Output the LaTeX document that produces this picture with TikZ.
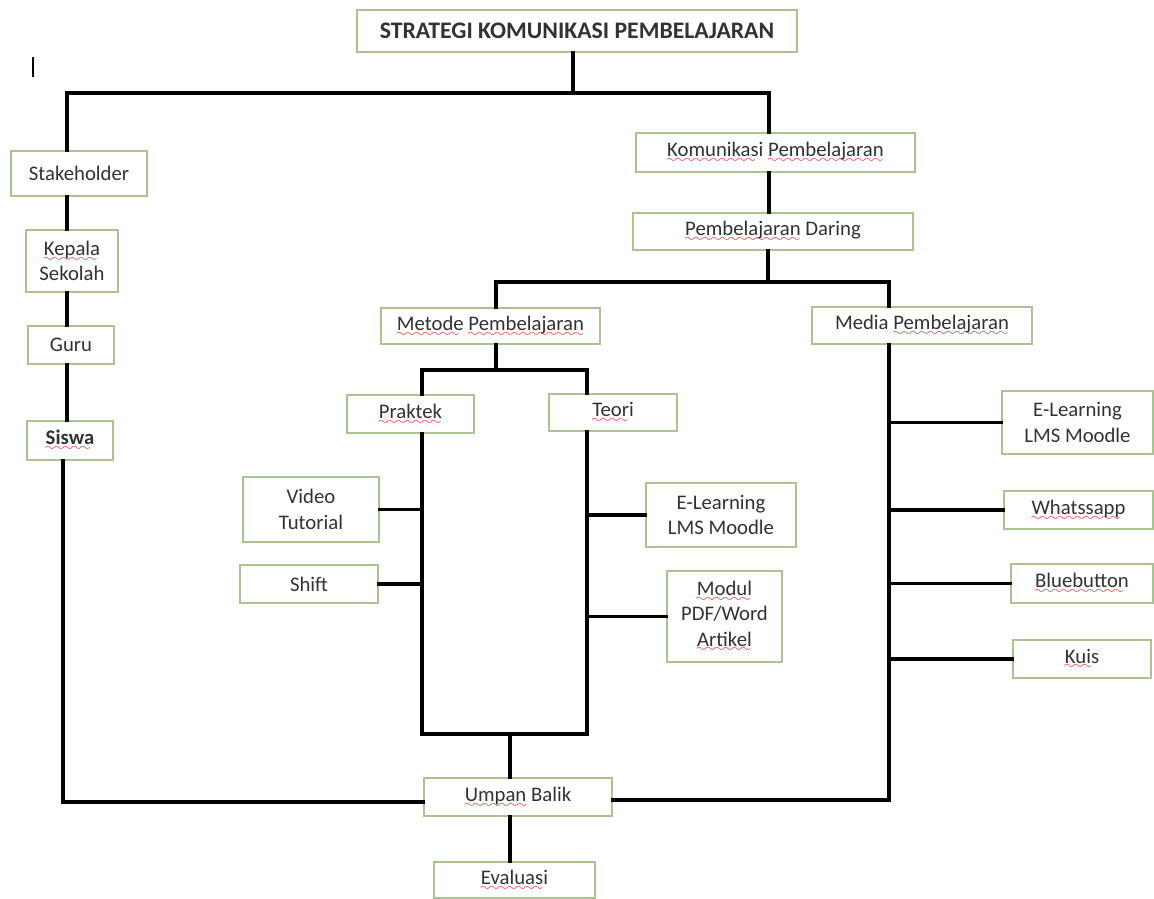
\documentclass[tikz,border=0pt]{standalone}
\usepackage{fontspec}
\setmainfont{Carlito}
\definecolor{bord}{RGB}{170,195,145}
\definecolor{txt}{RGB}{50,50,50}
\font\sixlyfont=lasy6
\newcommand\spl[1]{\setbox0\hbox{#1}\leavevmode\rlap{\lower3.2pt\hbox to\wd0{\color{red}\leaders\hbox{\sixlyfont\char58}\hfill}}\box0\relax}
\newcommand\mybox[7][]{\node[box,#1,minimum width={(#4-#2)*0.02cm},minimum height={(#5-#3)*0.02cm}] (#6) at ({(#2+#4)/2},{(#3+#5)/2}) {#7};}
\tikzset{
  box/.style={draw=bord,line width=0.8pt,fill=white,text=txt,align=center,inner sep=0pt,
    font=\fontsize{11.8}{14.5}\selectfont},
  ln/.style={line width=1.9pt,black,line cap=rect}
}
\begin{document}
\begin{tikzpicture}[x=0.02cm,y=-0.02cm]
\useasboundingbox (0,0) rectangle (1154,899);
% cursor mark
\draw[line width=1.7pt,black] (33,57) -- (33,77);
% junction coordinates
\coordinate (tl) at (67,93);
\coordinate (tr) at (769,93);
\coordinate (tc) at (573,93);
\coordinate (dj) at (768,282);
\coordinate (ml) at (496,282);
\coordinate (mr) at (889,282);
\coordinate (mj) at (496,370);
\coordinate (pj) at (422,370);
\coordinate (tj) at (587,370);
\coordinate (pb) at (422,734);
\coordinate (tb) at (587,734);
\coordinate (ub) at (510,734);
\coordinate (sx) at (63,802);
\coordinate (mx) at (889,800);
\coordinate (kx) at (67,0);
% boxes
\mybox[font=\fontsize{13.5}{16}\selectfont\bfseries]{357}{10}{797}{52}{title}{STRATEGI KOMUNIKASI PEMBELAJARAN}
\mybox{11}{151}{147}{196}{stake}{Stakeholder}
\mybox{26}{230}{118}{292}{kepala}{\spl{Kepala}\\Sekolah}
\mybox{28}{326}{114}{364}{guru}{Guru}
\mybox[font=\fontsize{11.8}{14.5}\selectfont\bfseries]{27}{421}{113}{460}{siswa}{\spl{Siswa}}
\mybox{636}{133}{915}{172}{komu}{\spl{Komunikasi} \spl{Pembelajaran}}
\mybox{633}{213}{913}{250}{daring}{\spl{Pembelajaran} Daring}
\mybox{381}{308}{600}{344}{metode}{\spl{Metode} \spl{Pembelajaran}}
\mybox{812}{307}{1032}{344}{media}{Media \spl{Pembelajaran}}
\mybox{347}{395}{474}{433}{prak}{\spl{Praktek}}
\mybox{549}{394}{677}{431}{teori}{\spl{Teori}}
\mybox{243}{477}{379}{542}{video}{Video\\Tutorial}
\mybox{240}{565}{378}{603}{shift}{Shift}
\mybox{646}{483}{796}{547}{elt}{E-Learning\\LMS Moodle}
\mybox{667}{571}{782}{662}{modul}{\spl{Modul}\\PDF/Word\\\spl{Artikel}}
\mybox{1002}{391}{1153}{454}{elm}{E-Learning\\LMS Moodle}
\mybox{1004}{491}{1153}{529}{wa}{\spl{Whatssapp}}
\mybox{1011}{564}{1153}{603}{blue}{\spl{Bluebutton}}
\mybox{1013}{640}{1151}{678}{kuis}{\spl{Kuis}}
\mybox{424}{778}{612}{816}{umpan}{\spl{Umpan} Balik}
\mybox{434}{862}{595}{898}{eval}{\spl{Evaluasi}}
% connectors
\draw[ln] (title.south -| tc) -- (tc);
\draw[ln] (stake.north -| tl) -- (tl) -- (tr) -- (komu.north -| tr);
\draw[ln] (stake.south -| kx) -- (kepala.north -| kx);
\draw[ln] (kepala.south -| kx) -- (guru.north -| kx);
\draw[ln] (guru.south -| kx) -- (siswa.north -| kx);
\draw[ln] (siswa.south -| sx) -- (sx) -- (umpan.west |- sx);
\draw[ln] (komu.south -| tr) -- (daring.north -| tr);
\draw[ln] (daring.south -| dj) -- (dj);
\draw[ln] (metode.north -| ml) -- (ml) -- (mr) -- (media.north -| mr);
\draw[ln] (metode.south -| mj) -- (mj);
\draw[ln] (prak.north -| pj) -- (pj) -- (tj) -- (teori.north -| tj);
\draw[ln] (prak.south -| pb) -- (pb) -- (tb) -- (teori.south -| tb);
\draw[ln] (video.east) -- (video.east -| pb);
\draw[ln] (shift.east) -- (shift.east -| pb);
\draw[ln] (elt.west) -- (elt.west -| tb);
\draw[ln] (modul.west) -- (modul.west -| tb);
\draw[ln] (ub) -- (umpan.north -| ub);
\draw[ln] (umpan.south -| ub) -- (eval.north -| ub);
\draw[ln] (umpan.east |- mx) -- (mx) -- (media.south -| mx);
\draw[ln] (elm.west) -- (elm.west -| mx);
\draw[ln] (wa.west) -- (wa.west -| mx);
\draw[ln] (blue.west) -- (blue.west -| mx);
\draw[ln] (kuis.west) -- (kuis.west -| mx);
\end{tikzpicture}
\end{document}
